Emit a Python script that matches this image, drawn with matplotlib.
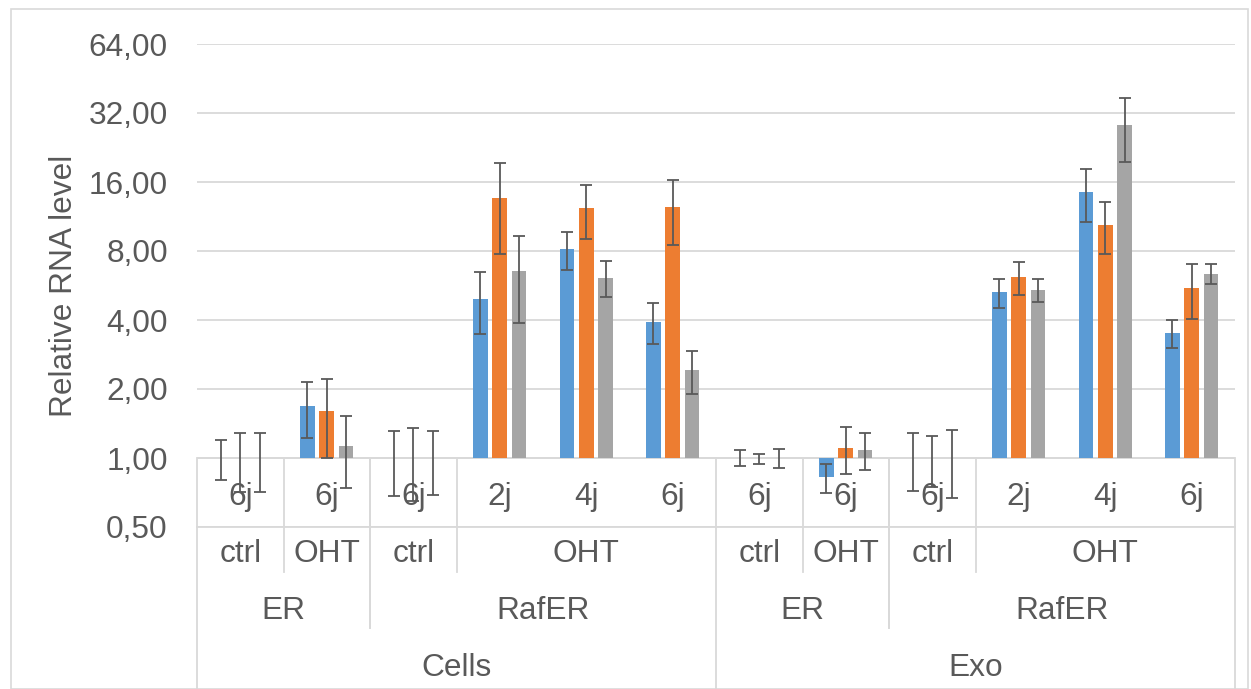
import matplotlib
matplotlib.use("Agg")
import matplotlib.pyplot as plt
import matplotlib.transforms as mtransforms
from matplotlib.patches import Rectangle
from matplotlib.ticker import FixedLocator, FuncFormatter
import numpy as np

plt.rcParams['font.family'] = ['Liberation Sans', 'DejaVu Sans']

# valeurs relatives
blue = [1.0, 1.68, 1.0, 4.96, 8.14, 3.94, 1.0, 0.826, 1.0, 5.29, 14.5, 3.50]
orange = [1.0, 1.61, 1.0, 13.6, 12.3, 12.4, 0.995, 1.105, 1.0, 6.16, 10.4, 5.54]
gray = [1.0, 1.13, 1.0, 6.57, 6.13, 2.41, 1.0, 1.087, 1.0, 5.43, 28.4, 6.38]

blue_err = [0.2, 0.46, 0.315, 1.5, 1.5, 0.8, 0.08, 0.12, 0.28, 0.77, 3.8, 0.48]
orange_err = [0.29, 0.61, 0.35, 5.85, 3.25, 3.9, 0.05, 0.255, 0.25, 1.0, 2.65, 1.5]
gray_err = [0.29, 0.39, 0.31, 2.7, 1.1, 0.51, 0.095, 0.2, 0.33, 0.63, 8.9, 0.62]

# étiquettes multi-niveaux (texte, premier index, dernier index)
level1 = ["6j", "6j", "6j", "2j", "4j", "6j", "6j", "6j", "6j", "2j", "4j", "6j"]
level2 = [("ctrl", 0, 0), ("OHT", 1, 1), ("ctrl", 2, 2), ("OHT", 3, 5),
          ("ctrl", 6, 6), ("OHT", 7, 7), ("ctrl", 8, 8), ("OHT", 9, 11)]
level3 = [("ER", 0, 1), ("RafER", 2, 5), ("ER", 6, 7), ("RafER", 8, 11)]
level4 = [("Cells", 0, 5), ("Exo", 6, 11)]

yticks = [0.5, 1, 2, 4, 8, 16, 32, 64]

colors = ["#5B9BD5", "#ED7D31", "#A5A5A5"]
txt = "#595959"
linec = "#D9D9D9"
fs = 22.8

W, H = 1251, 689
fig = plt.figure(figsize=(W / 100, H / 100), dpi=100)
# cadre du graphique
fig.patches.append(Rectangle((11 / W, 0), (1248 - 11) / W, 1 - 9 / H,
                             transform=fig.transFigure, fill=False,
                             edgecolor=linec, lw=1.2))

x0, x1, ytop, ybot = 197, 1235, 44, 527
ax = fig.add_axes([x0 / W, 1 - ybot / H, (x1 - x0) / W, (ybot - ytop) / H])

n = len(level1)
x = np.arange(n) + 0.5
bw = 0.17
step = 0.223
series = [(blue, blue_err), (orange, orange_err), (gray, gray_err)]
for k, (vals, errs) in enumerate(series):
    v = np.array(vals)
    xs = x + (k - 1) * step
    ax.bar(xs, v - 1, bottom=1, width=bw, color=colors[k], zorder=3)
    ax.errorbar(xs, v, yerr=errs, fmt="none", ecolor="#595959",
                elinewidth=1.3, capsize=4.5, capthick=1.3, zorder=4,
                clip_on=False)

ax.set_yscale("log", base=2)
ax.set_ylim(0.5, 64)
ax.set_xlim(0, n)
ax.yaxis.set_major_locator(FixedLocator(yticks))
ax.yaxis.set_minor_locator(FixedLocator([]))
ax.yaxis.set_major_formatter(FuncFormatter(lambda v, p: f"{v:.2f}".replace(".", ",")))
ax.tick_params(axis="y", length=0, pad=21, labelsize=fs, labelcolor=txt)
ax.set_xticks([])
for s in ax.spines.values():
    s.set_visible(False)
ax.yaxis.grid(True, color=linec, lw=1.3, zorder=0)
ax.set_axisbelow(True)
ax.axhline(1, color=linec, lw=1.3, zorder=2)

fig.text(64 / W, 1 - 286 / H, "Relative RNA level", rotation=90,
         ha="center", va="center", fontsize=fs, color=txt)

# tableau des catégories sous l'axe
tr = mtransforms.blended_transform_factory(ax.transData, fig.transFigure)

def fy(p):
    return 1 - p / H

def vline(xd, ya, yb):
    ax.plot([xd, xd], [fy(ya), fy(yb)], transform=tr, color=linec,
            lw=1.3, clip_on=False, zorder=1)

ax.plot([0, n], [fy(527), fy(527)], transform=tr, color=linec, lw=1.3,
        clip_on=False, zorder=1)
for xd in [0, 6, 12]:
    vline(xd, 458, 700)
for lab, a, b in level3:
    if a not in (0, 6):
        vline(a, 458, 628)
for lab, a, b in level2:
    if a not in (0, 2, 6, 8):
        vline(a, 458, 572)
vline(2, 458, 628)
vline(8, 458, 628)

for i, lab in enumerate(level1):
    ax.text(i + 0.5, fy(497), lab, transform=tr, ha="center", va="center",
            fontsize=fs, color=txt)
for rows, yc in [(level2, 554), (level3, 611), (level4, 668)]:
    for lab, a, b in rows:
        ax.text((a + b + 1) / 2, fy(yc), lab, transform=tr, ha="center",
                va="center", fontsize=fs, color=txt)

fig.savefig("out.png", dpi=100)
